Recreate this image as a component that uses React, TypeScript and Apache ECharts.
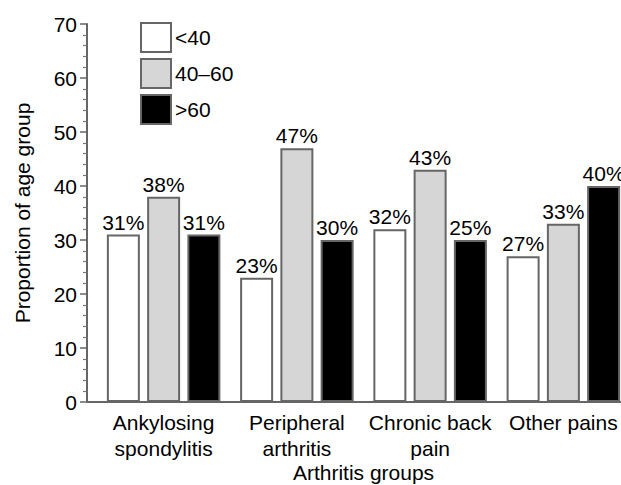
import React, { useEffect, useRef } from "react";
import * as echarts from "echarts";

const categories = ["Ankylosing\nspondylitis", "Peripheral\narthritis", "Chronic back\npain", "Other pains"];
const seriesNames = ["<40", "40–60", ">60"];
const valuesUnder40 = [31, 23, 32, 27];
const values40to60 = [38, 47, 43, 33];
const valuesOver60 = [31, 30, 30, 40];
const labelsUnder40 = ["31%", "23%", "32%", "27%"];
const labels40to60 = ["38%", "47%", "43%", "33%"];
const labelsOver60 = ["31%", "30%", "25%", "40%"];
const yTicks = [0, 10, 20, 30, 40, 50, 60, 70];

const FONT = "'Liberation Sans', Arial, Helvetica, sans-serif";
const FS = 21;

export default function App() {
  const ref = useRef<HTMLDivElement>(null);
  useEffect(() => {
    if (!ref.current) return;
    const chart = echarts.init(ref.current, null, { renderer: "svg" });
    const fills = ["#ffffff", "#d6d6d6", "#000000"];
    const vals = [valuesUnder40, values40to60, valuesOver60];
    const labs = [labelsUnder40, labels40to60, labelsOver60];
    const gridTop = 24;
    const gridBottom = 83;
    chart.setOption({
      animation: false,
      textStyle: { fontFamily: FONT },
      grid: {
        left: 97,
        right: -9,
        top: gridTop,
        bottom: gridBottom,
        containLabel: false,
        outerBoundsMode: "none",
      },
      legend: {
        orient: "vertical",
        left: 140,
        top: 22,
        padding: 0,
        itemWidth: 30,
        itemHeight: 29,
        itemGap: 5,
        icon: "rect",
        data: seriesNames,
        itemStyle: { borderColor: "#666", borderWidth: 2 },
        textStyle: { fontSize: FS, color: "#000", fontFamily: FONT, padding: [0, 0, 0, -1] },
      },
      xAxis: {
        type: "category",
        data: categories,
        name: "Arthritis groups",
        nameLocation: "middle",
        nameGap: 60,
        nameMoveOverlap: false,
        nameTextStyle: { fontSize: FS, color: "#000", fontFamily: FONT },
        axisLine: { show: true, lineStyle: { color: "#666", width: 2 } },
        axisTick: { show: false },
        axisLabel: { fontSize: FS, color: "#000", fontFamily: FONT, lineHeight: 26, margin: 7, interval: 0 },
        splitLine: { show: false },
      },
      yAxis: {
        type: "value",
        min: yTicks[0],
        max: yTicks[yTicks.length - 1],
        interval: 10,
        offset: 10,
        name: "Proportion of age group",
        nameLocation: "middle",
        nameGap: 54,
        nameMoveOverlap: false,
        nameTextStyle: { fontSize: FS, color: "#000", fontFamily: FONT },
        axisLine: { show: true, lineStyle: { color: "#666", width: 2 } },
        axisTick: { show: true, length: 7, lineStyle: { color: "#666", width: 1.5 } },
        minorTick: { show: true, splitNumber: 5, length: 4, lineStyle: { color: "#777", width: 1.2 } },
        axisLabel: { fontSize: FS, color: "#000", fontFamily: FONT, margin: 10 },
        splitLine: { show: false },
      },
      graphic: [
        {
          type: "line",
          shape: { x1: 87, y1: 485 - gridBottom, x2: 98, y2: 485 - gridBottom },
          style: { stroke: "#666", lineWidth: 2 },
        },
      ],
      series: seriesNames.map((name, i) => ({
        name,
        type: "bar",
        data: vals[i],
        barWidth: 33,
        barGap: "22%",
        itemStyle: { color: fills[i], borderColor: "#666", borderWidth: 2 },
        label: {
          show: true,
          position: "top",
          distance: 2,
          fontSize: FS,
          color: "#000",
          fontFamily: FONT,
          formatter: (p: any) => labs[i][p.dataIndex],
        },
      })),
    });
    return () => chart.dispose();
  }, []);
  return (
    <div
      ref={ref}
      style={{ position: "fixed", left: 0, top: 0, width: 621, height: 485, background: "#fff" }}
    />
  );
}
